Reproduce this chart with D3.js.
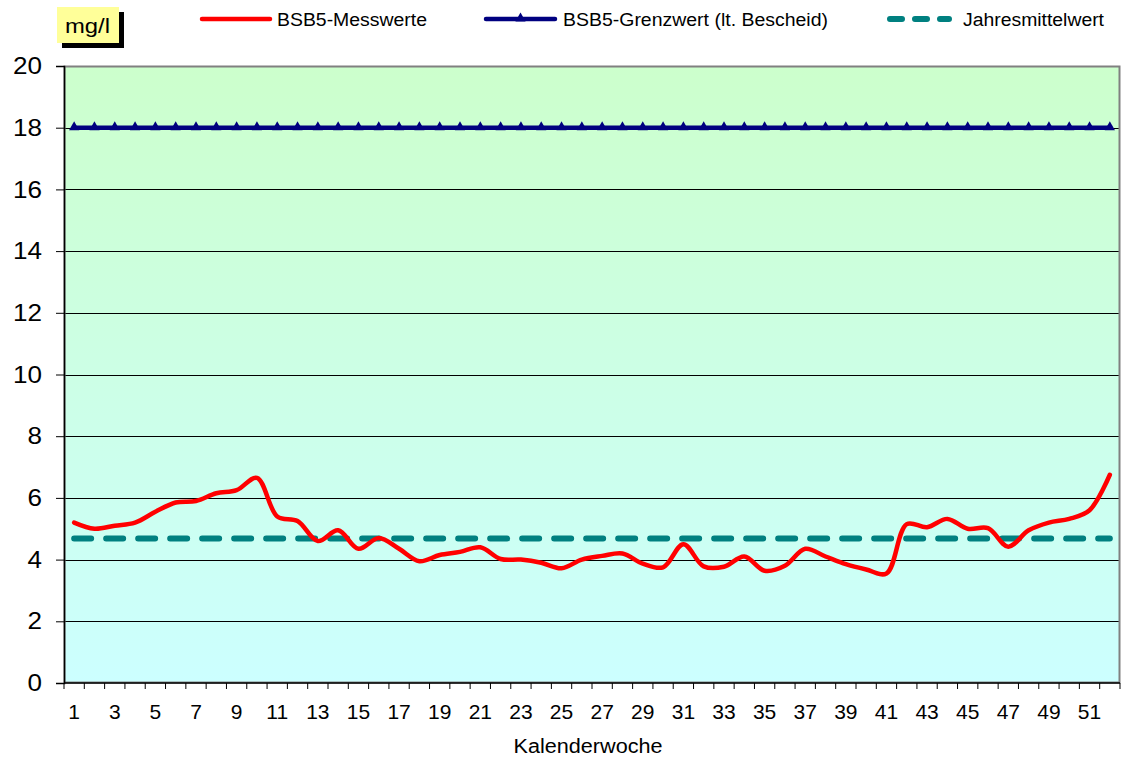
<!DOCTYPE html>
<html>
<head>
<meta charset="utf-8">
<script src="https://cdn.jsdelivr.net/npm/d3@7"></script>
<style>
  body { margin: 0; background: #fff; }
  text { font-family: Arial, "Liberation Sans", sans-serif; fill: #000; }
</style>
</head>
<body>
<div id="wrapper"></div>
<script>
// data
const weeks = d3.range(1, 53)
const messwerte = [
  5.2, 5.0, 5.1, 5.2, 5.55, 5.85, 5.9, 6.15, 6.25, 6.65,
  5.4, 5.25, 4.6, 4.95, 4.35, 4.7, 4.35, 3.95, 4.15, 4.25,
  4.4, 4.02, 4.0, 3.9, 3.72, 4.0, 4.12, 4.2, 3.87, 3.75,
  4.5, 3.78, 3.77, 4.1, 3.64, 3.8, 4.35, 4.1, 3.85, 3.68,
  3.55, 5.15, 5.05, 5.32, 5.0, 5.02, 4.42, 4.95, 5.2, 5.32,
  5.6, 6.75,
]
const grenzwert = weeks.map(() => 18)
const jahresmittel = 4.68
const yTicks = [0, 2, 4, 6, 8, 10, 12, 14, 16, 18, 20]
const xTickLabels = weeks.filter(w => w % 2 === 1)

const legendItems = [
  { label: "BSB5-Messwerte", type: "red" },
  { label: "BSB5-Grenzwert (lt. Bescheid)", type: "navy" },
  { label: "Jahresmittelwert", type: "teal" },
]

let dimensions = {
  width: 1125,
  height: 760,
  margin: { top: 66, right: 5, bottom: 77, left: 64 },
}
dimensions.boundedWidth = dimensions.width - dimensions.margin.left - dimensions.margin.right
dimensions.boundedHeight = dimensions.height - dimensions.margin.top - dimensions.margin.bottom

const wrapper = d3.select("#wrapper")
  .append("svg")
    .attr("width", dimensions.width)
    .attr("height", dimensions.height)

const defs = wrapper.append("defs")
const grad = defs.append("linearGradient")
    .attr("id", "bg")
    .attr("x1", 0).attr("y1", 0).attr("x2", 0).attr("y2", 1)
grad.append("stop").attr("offset", "0%").attr("stop-color", "#ccffcc")
grad.append("stop").attr("offset", "100%").attr("stop-color", "#ccffff")

const bounds = wrapper.append("g")
  .attr("transform", `translate(${dimensions.margin.left}, ${dimensions.margin.top})`)

// scales
const xScale = d3.scaleBand()
  .domain(weeks)
  .range([0, dimensions.boundedWidth])
  .padding(0)
const xPos = w => xScale(w) + xScale.bandwidth() / 2

const yScale = d3.scaleLinear()
  .domain([0, 20])
  .range([dimensions.boundedHeight, 0])

// background
bounds.append("rect")
    .attr("width", dimensions.boundedWidth)
    .attr("height", dimensions.boundedHeight)
    .attr("fill", "url(#bg)")

// gridlines
bounds.selectAll(".grid")
  .data(yTicks.filter(d => d > 0 && d < 20))
  .enter().append("line")
    .attr("x1", 0)
    .attr("x2", dimensions.boundedWidth)
    .attr("y1", d => Math.round(yScale(d)) + 0.5)
    .attr("y2", d => Math.round(yScale(d)) + 0.5)
    .attr("stroke", "#000")
    .attr("stroke-width", 1)

// plot border
bounds.append("rect")
    .attr("x", 0.5).attr("y", 0.5)
    .attr("width", dimensions.boundedWidth - 1)
    .attr("height", dimensions.boundedHeight - 1)
    .attr("fill", "none")
    .attr("stroke", "#808080")
    .attr("stroke-width", 2)

// y axis
const yAxisGenerator = d3.axisLeft(yScale)
  .tickValues(yTicks)
  .tickSize(8)
  .tickPadding(14)
const yAxis = bounds.append("g").call(yAxisGenerator)
yAxis.select(".domain").attr("stroke", "#000").attr("stroke-width", 1.5)
yAxis.selectAll(".tick line").attr("stroke", "#000")
yAxis.selectAll("text")
    .style("font-size", "24px")
    .style("font-family", "Arial, 'Liberation Sans', sans-serif")
    .attr("textLength", d => String(d).length * 14.5)
    .attr("lengthAdjust", "spacingAndGlyphs")

// x axis
const xAxisG = bounds.append("g")
  .attr("transform", `translate(0, ${dimensions.boundedHeight})`)
xAxisG.append("line")
    .attr("x1", 0).attr("x2", dimensions.boundedWidth)
    .attr("stroke", "#000").attr("stroke-width", 1.5)
xAxisG.selectAll(".xtick")
  .data(weeks.concat([53]))
  .enter().append("line")
    .attr("x1", d => d <= 52 ? xScale(d) : dimensions.boundedWidth)
    .attr("x2", d => d <= 52 ? xScale(d) : dimensions.boundedWidth)
    .attr("y1", 0).attr("y2", 6)
    .attr("stroke", "#000")
xAxisG.selectAll(".xlabel")
  .data(xTickLabels)
  .enter().append("text")
    .attr("x", d => xPos(d))
    .attr("y", 36)
    .attr("text-anchor", "middle")
    .style("font-size", "21px")
    .text(d => d)

wrapper.append("text")
    .attr("x", 588)
    .attr("y", 753)
    .attr("text-anchor", "middle")
    .style("font-size", "20px")
    .attr("textLength", 149)
    .attr("lengthAdjust", "spacingAndGlyphs")
    .text("Kalenderwoche")

// Jahresmittelwert
bounds.append("line")
    .attr("x1", xPos(1))
    .attr("x2", xPos(52))
    .attr("y1", yScale(jahresmittel))
    .attr("y2", yScale(jahresmittel))
    .attr("stroke", "#008080")
    .attr("stroke-width", 6)
    .attr("stroke-dasharray", "17 15")
    .attr("stroke-linecap", "round")

// Grenzwert
const lineGen = d3.line()
  .x((d, i) => xPos(weeks[i]))
  .y(d => yScale(d))
bounds.append("path")
    .attr("d", lineGen(grenzwert))
    .attr("fill", "none")
    .attr("stroke", "#000080")
    .attr("stroke-width", 4.5)
bounds.selectAll(".tri")
  .data(grenzwert)
  .enter().append("path")
    .attr("d", d3.symbol(d3.symbolTriangle, 45)())
    .attr("transform", (d, i) => `translate(${xPos(weeks[i])}, ${yScale(d) - 0.5})`)
    .attr("fill", "#000080")

// Messwerte
const smoothGen = d3.line()
  .x((d, i) => xPos(weeks[i]))
  .y(d => yScale(d))
  .curve(d3.curveCatmullRom.alpha(0.5))
bounds.append("path")
    .attr("d", smoothGen(messwerte))
    .attr("fill", "none")
    .attr("stroke", "#ff0000")
    .attr("stroke-width", 4.5)
    .attr("stroke-linejoin", "round")
    .attr("stroke-linecap", "round")

// unit box
wrapper.append("rect")
    .attr("x", 62).attr("y", 12)
    .attr("width", 62).attr("height", 36)
    .attr("fill", "#000")
wrapper.append("rect")
    .attr("x", 57).attr("y", 7)
    .attr("width", 62).attr("height", 36)
    .attr("fill", "#ffff99")
wrapper.append("text")
    .attr("x", 65).attr("y", 33)
    .style("font-size", "21px")
    .attr("textLength", 45)
    .attr("lengthAdjust", "spacingAndGlyphs")
    .text("mg/l")

// legend
const legendPos = [
  { x1: 202, x2: 270, tx: 277, w: 150 },
  { x1: 486, x2: 555, tx: 563, w: 265 },
  { x1: 887, x2: 952, tx: 963, w: 141 },
]
const legendY = 19
legendItems.forEach((item, i) => {
  const p = legendPos[i]
  if (item.type === "red") {
    wrapper.append("line")
        .attr("x1", p.x1).attr("x2", p.x2)
        .attr("y1", legendY).attr("y2", legendY)
        .attr("stroke", "#ff0000").attr("stroke-width", 4.5)
        .attr("stroke-linecap", "round")
  } else if (item.type === "navy") {
    wrapper.append("line")
        .attr("x1", p.x1).attr("x2", p.x2)
        .attr("y1", legendY).attr("y2", legendY)
        .attr("stroke", "#000080").attr("stroke-width", 4.5)
        .attr("stroke-linecap", "round")
    wrapper.append("path")
        .attr("d", d3.symbol(d3.symbolTriangle, 45)())
        .attr("transform", `translate(${(p.x1 + p.x2) / 2}, ${legendY - 0.5})`)
        .attr("fill", "#000080")
  } else {
    wrapper.append("line")
        .attr("x1", p.x1 + 3).attr("x2", p.x2 - 3)
        .attr("y1", legendY).attr("y2", legendY)
        .attr("stroke", "#008080").attr("stroke-width", 6)
        .attr("stroke-dasharray", "12 13")
        .attr("stroke-linecap", "round")
  }
  wrapper.append("text")
      .attr("x", p.tx)
      .attr("y", legendY + 7)
      .style("font-size", "18px")
      .attr("textLength", p.w)
      .attr("lengthAdjust", "spacingAndGlyphs")
      .text(item.label)
})
</script>
</body>
</html>
